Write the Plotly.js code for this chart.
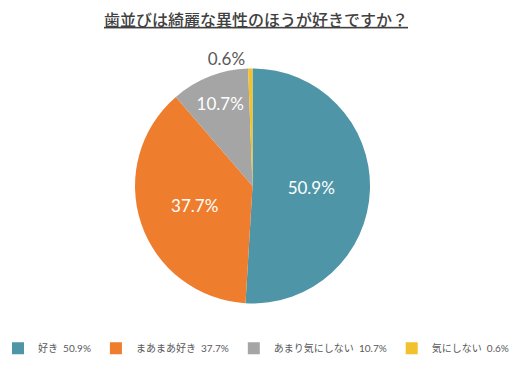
<!DOCTYPE html>
<html><head><meta charset="utf-8">
<script src="https://cdn.plot.ly/plotly-3.0.1.min.js"></script>
<style>html,body{margin:0;padding:0;background:#fff}#c{width:512px;height:368px}</style>
</head><body><div id="c"></div>
<script>
const categories = ['好き', 'まあまあ好き', 'あまり気にしない', '気にしない'];
const values = [50.9, 37.7, 10.7, 0.6];
const colors = ['#4E95A8', '#EE7D2E', '#A5A5A5', '#F2C12E'];
const chartTitle = '歯並びは綺麗な異性のほうが好きですか？';

const legendLabels = categories.map((c, i) => c + '\u00a0 ' + values[i].toFixed(1) + '%');
const sliceText = values.map(v => v.toFixed(1) + '%');

const trace = {
  type: 'pie',
  labels: legendLabels,
  values: values,
  text: sliceText,
  textinfo: 'text',
  hoverinfo: 'label',
  sort: false,
  direction: 'clockwise',
  rotation: 0,
  marker: {colors: colors, line: {color: '#ffffff', width: 0}},
  textposition: ['inside', 'inside', 'inside', 'outside'],
  insidetextorientation: 'horizontal',
  insidetextfont: {family: 'Lato, "Noto Sans", sans-serif', size: 17, color: '#ffffff'},
  outsidetextfont: {family: 'Lato, "Noto Sans", sans-serif', size: 17, color: '#595959'},
  domain: {x: [0.2637, 0.7227], y: [0.1753, 0.8139]},
  showlegend: true
};

const layout = {
  width: 512, height: 368,
  margin: {l: 0, r: 0, t: 0, b: 0},
  paper_bgcolor: '#ffffff',
  title: {
    text: '<u>' + chartTitle + '</u>',
    font: {family: '"Noto Sans CJK JP", sans-serif', size: 16, color: '#404040', weight: 500},
    x: 0.5, xanchor: 'center', y: 0.945, yanchor: 'middle'
  },
  legend: {
    orientation: 'h', x: 0.5, xanchor: 'center', y: 0.054, yanchor: 'middle',
    font: {family: 'Lato, "Noto Sans CJK JP", sans-serif', size: 10, color: '#595959'},
    itemwidth: 30
  },
  showlegend: true
};

Plotly.newPlot('c', [trace], layout, {displayModeBar: false, staticPlot: true});
</script></body></html>
